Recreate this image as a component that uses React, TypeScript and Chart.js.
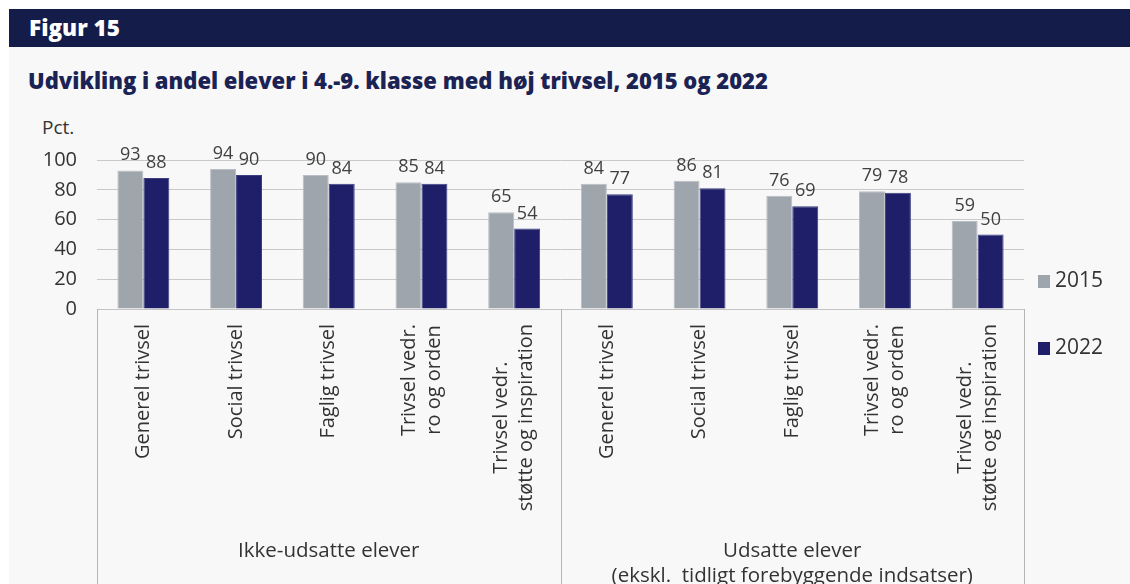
import React, { useEffect, useRef } from "react";
import { Chart, registerables } from "chart.js";

Chart.register(...registerables);

const categories: string[][] = [
  ["Generel trivsel"],
  ["Social trivsel"],
  ["Faglig trivsel"],
  ["Trivsel vedr.", "ro og orden"],
  ["Trivsel vedr.", "støtte og inspiration"],
  ["Generel trivsel"],
  ["Social trivsel"],
  ["Faglig trivsel"],
  ["Trivsel vedr.", "ro og orden"],
  ["Trivsel vedr.", "støtte og inspiration"],
];
const groupLabels: string[][] = [
  ["Ikke-udsatte elever"],
  ["Udsatte elever", "(ekskl.  tidligt forebyggende indsatser)"],
];
const series2015: number[] = [93, 94, 90, 85, 65, 84, 86, 76, 79, 59];
const series2022: number[] = [88, 90, 84, 84, 54, 77, 81, 69, 78, 50];
const seriesNames: string[] = ["2015", "2022"];
const yTicks: number[] = [0, 20, 40, 60, 80, 100];

const FONT = "'Open Sans'";
const GRAY = "#9ea5ac";
const NAVY = "#1f1f69";
const TEXT = "#333333";

const overlayPlugin = {
  id: "overlay",
  afterDatasetsDraw(chart: any) {
    const { ctx, chartArea, scales } = chart;
    const x = scales.x;
    ctx.save();
    // data labels
    ctx.font = `18px ${FONT}`;
    ctx.fillStyle = "#404040";
    ctx.textAlign = "center";
    ctx.textBaseline = "alphabetic";
    chart.data.datasets.forEach((ds: any, di: number) => {
      const meta = chart.getDatasetMeta(di);
      meta.data.forEach((bar: any, i: number) => {
        ctx.fillText(String(ds.data[i]), bar.x, bar.y - 10);
      });
    });
    // category labels (rotated, lines centred on each other, block top-aligned)
    ctx.font = `20px ${FONT}`;
    ctx.fillStyle = TEXT;
    ctx.textAlign = "center";
    ctx.textBaseline = "middle";
    const lh = 25;
    (chart.data.labels as string[][]).forEach((lines, i) => {
      const cx = x.getPixelForTick(i);
      const maxW = Math.max(...lines.map((l) => ctx.measureText(l).width));
      ctx.save();
      ctx.translate(cx, chartArea.bottom + 15);
      ctx.rotate(-Math.PI / 2);
      lines.forEach((line, j) => {
        ctx.fillText(line, -maxW / 2, (j - (lines.length - 1) / 2) * lh);
      });
      ctx.restore();
    });
    // divider lines below axis
    ctx.strokeStyle = "#b5b5b5";
    ctx.lineWidth = 1;
    const mid = (x.getPixelForTick(4) + x.getPixelForTick(5)) / 2;
    const xs = [chartArea.left, mid, chartArea.right];
    xs.forEach((px) => {
      const p = Math.round(px) + 0.5;
      ctx.beginPath();
      ctx.moveTo(p, chartArea.bottom);
      ctx.lineTo(p, chart.height);
      ctx.stroke();
    });
    // group labels
    ctx.font = `20.5px ${FONT}`;
    ctx.fillStyle = TEXT;
    ctx.textAlign = "center";
    ctx.textBaseline = "alphabetic";
    const centers = [(chartArea.left + mid) / 2, (mid + chartArea.right) / 2];
    groupLabels.forEach((lines, gi) => {
      lines.forEach((line, li) => {
        ctx.fillText(line, centers[gi], chartArea.bottom + 248 + li * 25);
      });
    });
    ctx.restore();
  },
};

export default function App() {
  const ref = useRef<HTMLCanvasElement | null>(null);
  useEffect(() => {
    if (!ref.current) return;
    const chart = new Chart(ref.current, {
      type: "bar",
      data: {
        labels: categories,
        datasets: [
          {
            label: seriesNames[0],
            data: series2015,
            backgroundColor: GRAY,
            borderColor: "#b9bec4",
            borderWidth: 1,
            categoryPercentage: 0.56,
            barPercentage: 1,
          },
          {
            label: seriesNames[1],
            data: series2022,
            backgroundColor: NAVY,
            borderColor: "#3a3f80",
            borderWidth: 1,
            categoryPercentage: 0.56,
            barPercentage: 1,
          },
        ],
      },
      options: {
        animation: false,
        responsive: false,
        maintainAspectRatio: false,
        layout: { padding: { left: 0, right: 106, top: 60, bottom: 0 } },
        plugins: {
          legend: { display: false },
          tooltip: { enabled: false },
          title: { display: false },
        },
        scales: {
          x: {
            grid: { display: false, drawTicks: false },
            border: { display: true, color: "#c4c4c4" },
            ticks: { display: false, autoSkip: false },
            afterFit(scale: any) {
              scale.height = 275;
            },
          },
          y: {
            min: 0,
            max: 100,
            afterBuildTicks(scale: any) {
              scale.ticks = yTicks.map((v) => ({ value: v }));
            },
            grid: { color: "#c9c9c9", drawTicks: false },
            border: { display: false },
            ticks: {
              padding: 20,
              color: TEXT,
              font: { family: FONT, size: 20 },
            },
            afterFit(scale: any) {
              scale.width = 97;
            },
          },
        },
      },
      plugins: [overlayPlugin],
    });
    return () => chart.destroy();
  }, []);

  return (
    <div style={{ position: "absolute", left: 0, top: 0, width: 1130, height: 584, overflow: "hidden", fontFamily: FONT }}>
      <div style={{ position: "absolute", left: 9, top: 9, width: 1121, height: 575, background: "#f8f8f8" }} />
      <div
        style={{
          position: "absolute",
          left: 9,
          top: 9,
          width: 1121,
          height: 38,
          background: "#141c4a",
          color: "#ffffff",
          fontWeight: 800,
          fontSize: 22.5,
          lineHeight: "38px",
          paddingLeft: 20,
          boxSizing: "border-box",
        }}
      >
        Figur 15
      </div>
      <div
        style={{
          position: "absolute",
          left: 28,
          top: 66,
          color: "#1b2354",
          fontWeight: 800,
          fontSize: 22,
          lineHeight: "28px",
          whiteSpace: "nowrap",
        }}
      >
        Udvikling i andel elever i 4.-9. klasse med høj trivsel, 2015 og 2022
      </div>
      <div style={{ position: "absolute", left: 42, top: 115, color: TEXT, fontSize: 19, lineHeight: "24px" }}>Pct.</div>
      <canvas ref={ref} width={1130} height={484} style={{ position: "absolute", left: 0, top: 100, width: 1130, height: 484 }} />
      <div style={{ position: "absolute", left: 1038, top: 267, fontSize: 21, color: TEXT, lineHeight: "24px", whiteSpace: "nowrap" }}>
        <span style={{ display: "inline-block", width: 12, height: 13, background: GRAY, marginRight: 5, verticalAlign: "-1px" }} />
        {seriesNames[0]}
      </div>
      <div style={{ position: "absolute", left: 1038, top: 334, fontSize: 21, color: TEXT, lineHeight: "24px", whiteSpace: "nowrap" }}>
        <span style={{ display: "inline-block", width: 12, height: 13, background: NAVY, marginRight: 5, verticalAlign: "-1px" }} />
        {seriesNames[1]}
      </div>
    </div>
  );
}
